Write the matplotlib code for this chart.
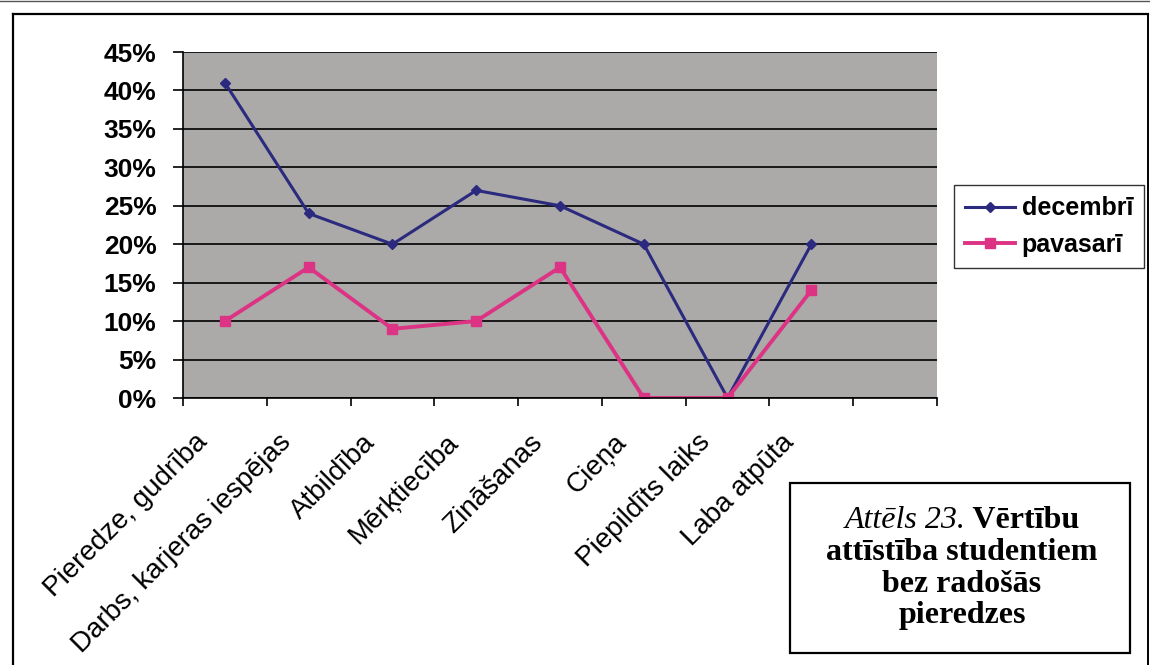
import matplotlib.pyplot as plt
from matplotlib.patches import Rectangle
from matplotlib.lines import Line2D
import matplotlib.transforms as mtransforms

categories = ["Pieredze, gudrība", "Darbs, karjeras iespējas", "Atbildība",
              "Mērķtiecība", "Zināšanas", "Cieņa", "Piepildīts laiks",
              "Laba atpūta"]
decembri = [41, 24, 20, 27, 25, 20, 0, 20]
pavasari = [10, 17, 9, 10, 17, 0, 0, 14]
series_names = ["decembrī", "pavasarī"]
yticks = [0, 5, 10, 15, 20, 25, 30, 35, 40, 45]

NAVY = "#2b2a7e"
PINK = "#dd3384"

W, H = 1150, 665
fig = plt.figure(figsize=(W / 100, H / 100), dpi=100)
plt.rcParams['font.family'] = ['Liberation Sans', 'DejaVu Sans']


def fx(px):
    return px / W


def fy(py):
    return 1 - py / H


# page frame
fig.add_artist(Line2D([fx(13), fx(1148)], [fy(14), fy(14)], color="black", lw=1.6))
fig.add_artist(Line2D([fx(13), fx(13)], [fy(14), 0], color="black", lw=1.6))
fig.add_artist(Line2D([fx(1148), fx(1148)], [fy(14), 0], color="black", lw=1.4))
fig.add_artist(Line2D([0, 1], [fy(1), fy(1)], color="#555555", lw=1.0))

ax = fig.add_axes([fx(183), fy(398), fx(937) - fx(183), fy(52) - fy(398)])
ax.set_facecolor("#abaaa8")

x = list(range(len(categories)))
ax.plot(x, decembri, color=NAVY, lw=2.2, marker="D", ms=5.5, label=series_names[0])
ax.plot(x, pavasari, color=PINK, lw=2.8, marker="s", ms=7.5, label=series_names[1])

ax.set_xlim(-0.5, len(categories) + 0.5)
ax.set_ylim(0, 45)
ax.set_yticks(yticks)
ax.set_yticklabels([f"{v}%" for v in yticks], fontsize=19, fontweight="bold")
ax.yaxis.grid(True, color="black", lw=1.2)
ax.set_axisbelow(True)

# category labels centred in each slot, tick marks on slot borders
ax.set_xticks(x)
ax.set_xticklabels(categories, rotation=45, ha="right", va="center",
                   rotation_mode="anchor", fontsize=20)
ax.set_xticks([i - 0.5 for i in range(len(categories) + 2)], minor=True)
ax.tick_params(axis="x", which="major", length=0, pad=29)
ax.tick_params(axis="x", which="minor", length=6, width=1.2, direction="out")
ax.tick_params(axis="y", length=7, width=1.2, pad=12)
offset = mtransforms.ScaledTranslation(-0.21, 0, fig.dpi_scale_trans)
for lbl in ax.get_xticklabels():
    lbl.set_transform(lbl.get_transform() + offset)

for side in ["top", "right"]:
    ax.spines[side].set_visible(False)
ax.spines["left"].set_linewidth(1.2)
ax.spines["bottom"].set_linewidth(1.2)

# legend box
leg = fig.legend(loc="upper left", bbox_to_anchor=(fx(954), fy(185)),
                 frameon=True, fancybox=False,
                 prop={"weight": "bold", "size": 18},
                 handlelength=2.0, handletextpad=0.25, borderpad=0.45,
                 labelspacing=0.5, borderaxespad=0)
leg.get_frame().set_edgecolor("black")
leg.get_frame().set_linewidth(1.0)

# caption box
fig.add_artist(Rectangle((fx(790), fy(653)), fx(1130) - fx(790), fy(483) - fy(653),
                         fill=False, ec="black", lw=1.6))
serif = "Liberation Serif"
cap_size = 23
cx = fx(962)
fig.canvas.draw()
r = fig.canvas.get_renderer()
t1 = fig.text(0, fy(520), "Attēls 23.", family=serif, style="italic",
              fontsize=cap_size, va="center", ha="left")
t2 = fig.text(0, fy(520), " Vērtību", family=serif, weight="bold",
              fontsize=cap_size, va="center", ha="left")
w1 = t1.get_window_extent(r).width / W
w2 = t2.get_window_extent(r).width / W
t1.set_x(cx - (w1 + w2) / 2)
t2.set_x(cx - (w1 + w2) / 2 + w1)
for line, py in [("attīstība studentiem", 552), ("bez radošās", 584),
                 ("pieredzes", 616)]:
    fig.text(cx, fy(py), line, family=serif, weight="bold", fontsize=cap_size,
             ha="center", va="center")

fig.savefig("out.png", dpi=100)
